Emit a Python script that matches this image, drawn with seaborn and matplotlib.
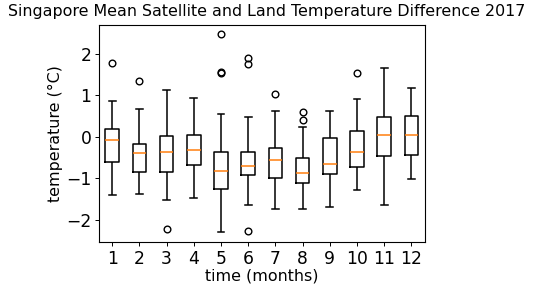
import pandas as pd
import seaborn as sns
import matplotlib.pyplot as plt

# Box statistics (degrees C)
months = [1, 2, 3, 4, 5, 6, 7, 8, 9, 10, 11, 12]
whisker_lo = [-1.41, -1.38, -1.53, -1.48, -2.30, -1.65, -1.75, -1.73, -1.70, -1.29, -1.65, -1.03]
q1 = [-0.62, -0.86, -0.86, -0.69, -1.27, -0.93, -1.00, -1.12, -0.91, -0.74, -0.47, -0.43]
median = [-0.09, -0.40, -0.36, -0.33, -0.83, -0.71, -0.57, -0.88, -0.66, -0.38, 0.03, 0.03]
q3 = [0.18, -0.18, 0.02, 0.05, -0.36, -0.36, -0.26, -0.52, -0.04, 0.13, 0.48, 0.51]
whisker_hi = [0.87, 0.66, 1.13, 0.94, 0.55, 0.48, 0.61, 0.23, 0.61, 0.92, 1.66, 1.18]
outliers = [[1.77], [1.35], [-2.23], [], [1.53, 1.55, 2.47], [-2.28, 1.74, 1.90],
            [1.02], [0.41, 0.59], [], [1.54], [], []]

# Rebuild samples that give exactly these quartiles / whiskers
rows = []
for i, m in enumerate(months):
    vals = [whisker_lo[i], whisker_hi[i]] + [q1[i]] * 10 + [median[i]] * 10 + [q3[i]] * 10 + outliers[i]
    rows += [(m, v) for v in vals]
df = pd.DataFrame(rows, columns=["month", "temp"])

fig = plt.figure(figsize=(5.36, 2.90), dpi=100)
ax = fig.add_axes([0.184, 0.165, 0.609, 0.75])

sns.boxplot(data=df, x="month", y="temp", ax=ax, fill=False, color="black",
            width=0.5, linewidth=1.1,
            medianprops={"color": "#ff7f0e"},
            flierprops={"marker": "o", "markerfacecolor": "none",
                        "markeredgecolor": "black", "markersize": 4.8},
            capwidths=0.25)

ax.set_ylim(-2.54, 2.70)
ax.set_xlim(-0.5, 11.5)
ax.set_yticks([-2, -1, 0, 1, 2])
ax.tick_params(labelsize=12.3, length=2.8, width=0.7, pad=2.5)
for s in ax.spines.values():
    s.set_linewidth(0.8)
ax.set_title("Singapore Mean Satellite and Land Temperature Difference 2017",
             fontsize=11.4, x=0.515)
ax.set_xlabel("time (months)", fontsize=11.4, labelpad=1)
ax.set_ylabel("temperature (°C)", fontsize=11.4, labelpad=2)

fig.savefig("out.png", dpi=100)
